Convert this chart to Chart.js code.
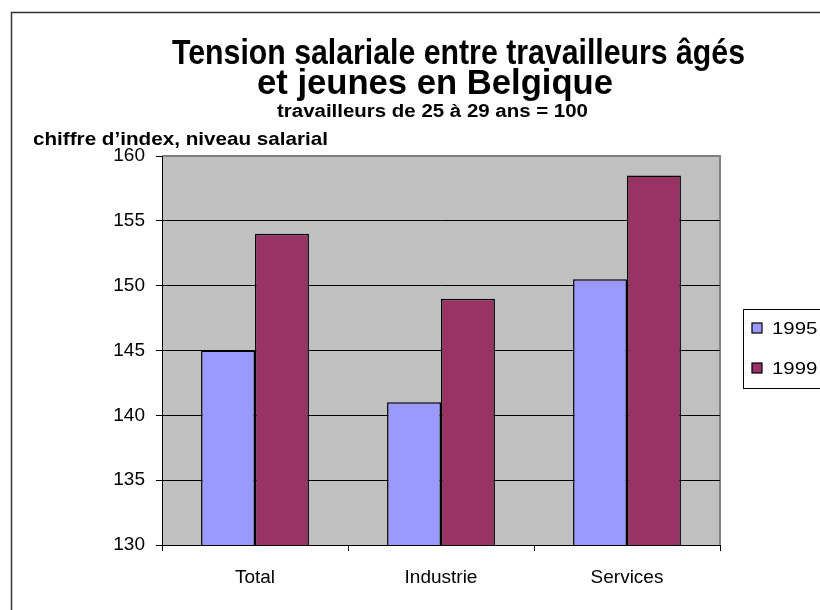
<!DOCTYPE html>
<html>
<head>
<meta charset="utf-8">
<script src="https://cdn.jsdelivr.net/npm/chart.js@4"></script>
<style>
  html, body { margin: 0; padding: 0; background: #fff; overflow: hidden; }
  #wrap { position: relative; width: 820px; height: 610px; }
</style>
</head>
<body>
<div id="wrap"><canvas id="c" width="820" height="610"></canvas></div>
<script>
// ---- Data ----
const categories = ['Total', 'Industrie', 'Services'];
const seriesLabels = ['1995', '1999'];
const values1995 = [145, 141, 150.5];
const values1999 = [154, 149, 158.5];
const yMin = 130, yMax = 160, yStep = 5;
const titleLines = ['Tension salariale entre travailleurs âgés', 'et jeunes en Belgique'];
const subtitleText = 'travailleurs de 25 à 29 ans = 100';
const yAxisTitle = 'chiffre d\u2019index, niveau salarial';

const colors = ['#9999FF', '#993366'];
const FONT = "'Liberation Sans', Arial, sans-serif";

// draw text squeezed/stretched horizontally by a factor or to a target width
function fitText(ctx, text, left, baseline, font, width, scale) {
  ctx.save();
  ctx.font = font;
  ctx.fillStyle = '#000';
  ctx.textAlign = 'left';
  ctx.textBaseline = 'alphabetic';
  const w = ctx.measureText(text).width;
  const s = scale || (width / w);
  ctx.translate(left, baseline);
  ctx.scale(s, 1);
  ctx.fillText(text, 0, 0);
  ctx.restore();
}

const decorPlugin = {
  id: 'decor',
  beforeDraw(chart) {
    const { ctx, chartArea: a } = chart;
    ctx.save();
    ctx.strokeStyle = '#333';
    ctx.lineWidth = 1.5;
    ctx.beginPath();
    ctx.moveTo(11.5, 612);
    ctx.lineTo(11.5, 12.5);
    ctx.lineTo(822, 12.5);
    ctx.stroke();
    ctx.fillStyle = '#C0C0C0';
    ctx.fillRect(a.left, a.top, a.right - a.left, a.bottom - a.top);
    ctx.strokeStyle = '#808080';
    ctx.lineWidth = 2;
    ctx.beginPath();
    ctx.moveTo(a.left, a.top);
    ctx.lineTo(a.right, a.top);
    ctx.lineTo(a.right, a.bottom);
    ctx.stroke();
    ctx.restore();
  },
  afterDraw(chart) {
    const { ctx } = chart;
    fitText(ctx, titleLines[0], 172, 64, 'bold 35px ' + FONT, 573);
    fitText(ctx, titleLines[1], 257, 94, 'bold 35px ' + FONT, 356);
    fitText(ctx, subtitleText, 277, 117, 'bold 18px ' + FONT, 311);
    fitText(ctx, yAxisTitle, 33, 145, 'bold 19px ' + FONT, 295);
    // legend
    ctx.save();
    const lx = 743, ly = 309, lb = 388;
    ctx.fillStyle = '#fff';
    ctx.fillRect(lx, ly, 90, lb - ly);
    ctx.strokeStyle = '#000';
    ctx.lineWidth = 1;
    ctx.strokeRect(lx + 0.5, ly + 0.5, 100, lb - ly);
    chart.data.datasets.forEach((ds, i) => {
      const cy = ly + 19 + i * 40;
      ctx.fillStyle = ds.backgroundColor;
      ctx.fillRect(752, cy - 5, 10, 10);
      ctx.strokeStyle = '#000';
      ctx.lineWidth = 1.2;
      ctx.strokeRect(752, cy - 5, 10, 10);
      fitText(ctx, ds.label, 772, cy + 6, '17px ' + FONT, 0, 1.2);
    });
    ctx.restore();
  }
};

new Chart(document.getElementById('c'), {
  type: 'bar',
  data: {
    labels: categories,
    datasets: [
      { label: seriesLabels[0], data: values1995, backgroundColor: colors[0], borderColor: '#000', borderWidth: 1.5 },
      { label: seriesLabels[1], data: values1999, backgroundColor: colors[1], borderColor: '#000', borderWidth: 1.5 }
    ]
  },
  options: {
    responsive: false,
    animation: false,
    events: [],
    layout: { padding: { left: 102, right: 100, top: 156, bottom: 15 } },
    datasets: { bar: { categoryPercentage: 0.58, barPercentage: 1.0 } },
    plugins: {
      legend: { display: false },
      title: { display: false },
      tooltip: { enabled: false }
    },
    scales: {
      x: {
        afterFit(scale) { scale.height = 50; },
        grid: { drawOnChartArea: false, drawTicks: true, tickLength: 6, color: '#000', offset: true },
        border: { display: true, color: '#000', width: 1 },
        ticks: { color: '#000', font: { family: FONT, size: 19 }, padding: 15 }
      },
      y: {
        min: yMin, max: yMax,
        afterFit(scale) { scale.width = 60; },
        grid: {
          color: (c) => (c.tick && c.tick.value === yMax) ? '#808080' : '#000',
          lineWidth: 1, tickLength: 6, drawTicks: true,
          tickColor: '#000'
        },
        border: { display: true, color: '#000', width: 1 },
        ticks: { stepSize: yStep, color: '#000', font: { family: FONT, size: 19 }, padding: 11 }
      }
    }
  },
  plugins: [decorPlugin]
});
</script>
</body>
</html>
